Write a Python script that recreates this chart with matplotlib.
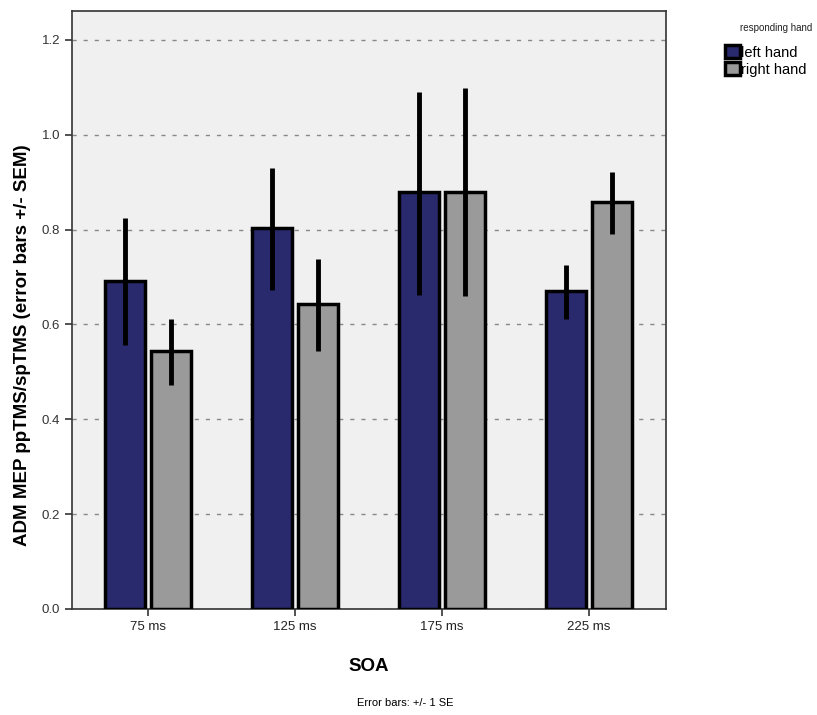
import matplotlib
matplotlib.use("Agg")
import matplotlib.pyplot as plt
import numpy as np
from matplotlib.patches import Patch

categories = ["75 ms", "125 ms", "175 ms", "225 ms"]
left_mean = [0.691, 0.803, 0.879, 0.670]
left_lo = [0.556, 0.672, 0.663, 0.611]
left_hi = [0.824, 0.930, 1.090, 0.725]
right_mean = [0.543, 0.644, 0.879, 0.858]
right_lo = [0.473, 0.543, 0.659, 0.790]
right_hi = [0.611, 0.739, 1.099, 0.921]
series_names = ["left hand", "right hand"]
legend_title = "responding hand"
yticks = [0.0, 0.2, 0.4, 0.6, 0.8, 1.0, 1.2]

plt.rcParams['font.family'] = ['Liberation Sans', 'DejaVu Sans']

fig = plt.figure(figsize=(8.17, 7.15), dpi=100)
ax = fig.add_axes([0.0881, 0.1483, 0.8152 - 0.0881, 0.9846 - 0.1483])
ax.set_facecolor("#f0f0f0")

x = np.arange(len(categories))
w = 0.27
off = 0.155
blue = "#29296e"
gray = "#9a9a9a"

ax.bar(x - off, left_mean, width=w, color=blue, edgecolor="black", linewidth=2.5, zorder=3)
ax.bar(x + off, right_mean, width=w, color=gray, edgecolor="black", linewidth=2.5, zorder=3)
for xs, lo, hi in [(x - off, left_lo, left_hi), (x + off, right_lo, right_hi)]:
    ax.vlines(xs, lo, hi, color="black", linewidth=3.5, zorder=4)

ax.set_xlim(-0.517, 3.524)
ax.set_ylim(0, 1.261)
ax.set_yticks(yticks)
ax.set_yticklabels([f"{v:.1f}" for v in yticks], fontsize=9.5, color="#333333")
ax.set_xticks(x)
ax.set_xticklabels(categories, fontsize=9.5, color="#222222")
ax.tick_params(axis="both", direction="out", length=5, width=1.2, color="#333333")
ax.yaxis.grid(True, linestyle=(0, (3, 5)), color="#888888", linewidth=1, zorder=0)
ax.set_axisbelow(True)
for s in ax.spines.values():
    s.set_color("#333333")
    s.set_linewidth(1.2)

ax.set_ylabel("ADM MEP ppTMS/spTMS (error bars +/- SEM)", fontsize=13.5, fontweight="bold")
ax.yaxis.set_label_coords(-41 / 594, (609 - 345) / 598)
ax.set_xlabel("SOA", fontsize=13.5, fontweight="bold", labelpad=18)

fig.text(405 / 817, 1 - 703 / 715, "Error bars: +/- 1 SE", ha="center", va="center", fontsize=8)

handles = [Patch(facecolor=blue, edgecolor="black", linewidth=2.5, label=series_names[0]),
           Patch(facecolor=gray, edgecolor="black", linewidth=2.5, label=series_names[1])]
leg = fig.legend(handles=handles, loc="upper left", bbox_to_anchor=(725 / 817, 1 - 45 / 715),
                 frameon=False, fontsize=10.5,
                 handlelength=1.0, handleheight=1.0, handletextpad=0.1, labelspacing=0.2,
                 borderaxespad=0, borderpad=0)
fig.text(812 / 817, 1 - 28 / 715, legend_title, ha="right", va="center", fontsize=7, color="#222222")

fig.savefig("out.png", dpi=100)
